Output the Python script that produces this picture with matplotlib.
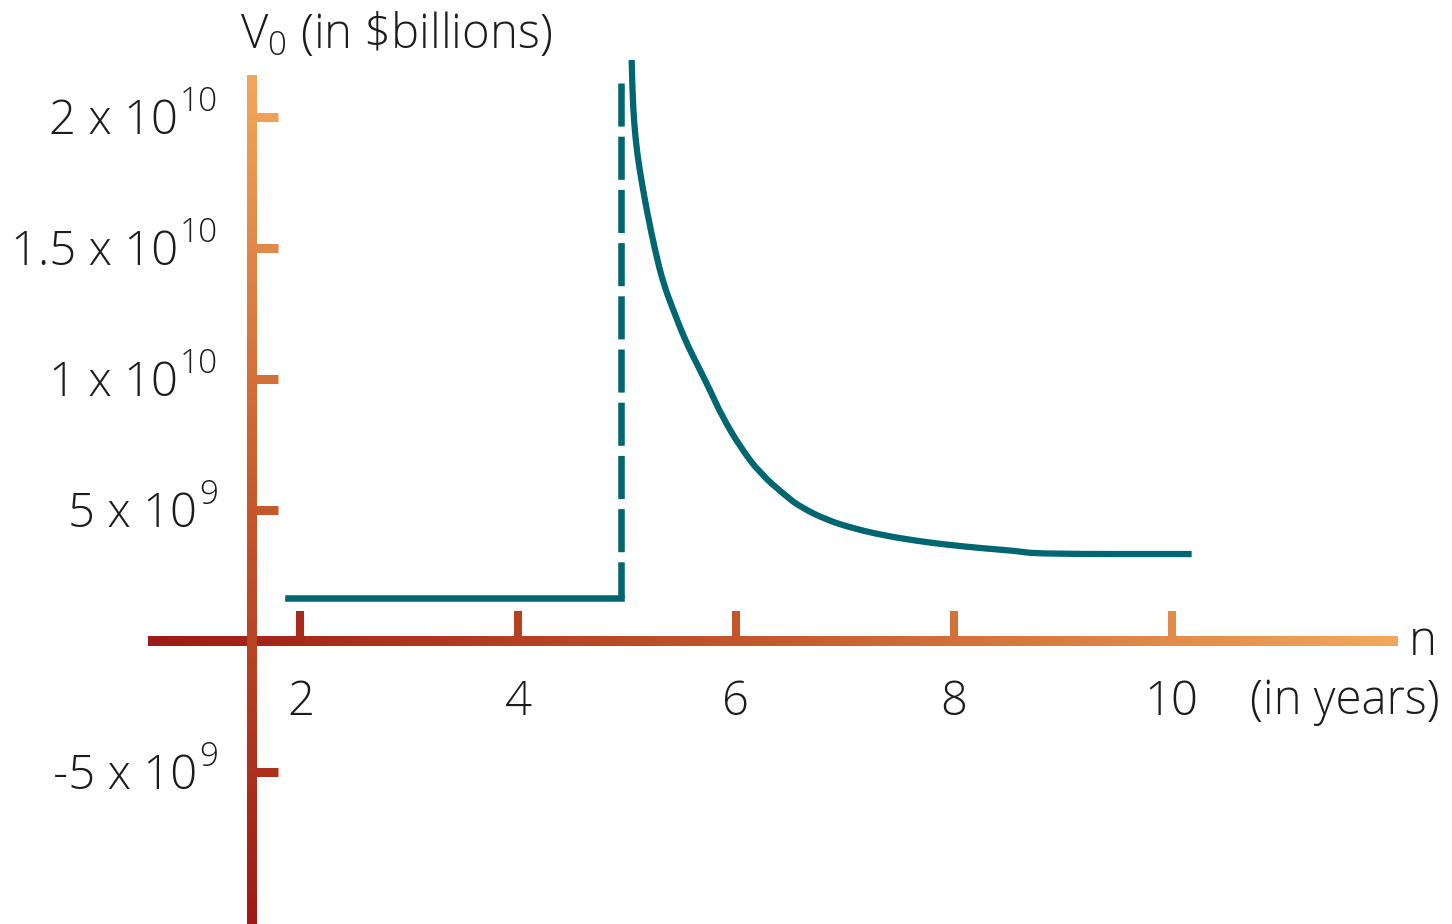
import numpy as np
import matplotlib
matplotlib.use('Agg')
import matplotlib.pyplot as plt
from matplotlib.colors import LinearSegmentedColormap
from matplotlib.path import Path
from matplotlib.patches import PathPatch

plt.rcParams['font.family'] = ['Open Sans', 'DejaVu Sans']
plt.rcParams['font.weight'] = 'light'
plt.rcParams['mathtext.fontset'] = 'custom'
plt.rcParams['mathtext.rm'] = 'Open Sans:light'
plt.rcParams['mathtext.default'] = 'rm'

# flat part before n = 5 and the jump (dashed)
flat_n = [1.886, 4.944]
flat_v = [1.64e9, 1.64e9]
jump_n = [4.944, 4.944]
jump_v = [2.13e10, 1.64e9]

# decaying part after n = 5
curve_n = [5.042, 5.048, 5.063, 5.094, 5.134, 5.183, 5.256, 5.332, 5.424,
           5.532, 5.651, 5.761, 5.871, 6.037, 6.220, 6.466, 6.588, 6.833,
           7.077, 7.338, 7.649, 7.961, 8.272, 8.580, 8.770, 10.184]
curve_v = [2.2176e10, 2.1095e10, 1.9821e10, 1.8550e10, 1.7531e10, 1.6386e10,
           1.4924e10, 1.3653e10, 1.2634e10, 1.1489e10, 1.0496e10, 9.580e9,
           8.588e9, 7.416e9, 6.401e9, 5.508e9, 5.126e9, 4.618e9, 4.302e9,
           4.046e9, 3.828e9, 3.664e9, 3.538e9, 3.435e9, 3.321e9, 3.321e9]

x_ticks = [2, 4, 6, 8, 10]
x_tick_labels = ['2', '4', '6', '8', '10']
y_ticks = [2e10, 1.5e10, 1e10, 5e9, -5e9]
y_tick_bases = ['2 x 10', '1.5 x 10', '1 x 10', '5 x 10', '-5 x 10']
y_tick_exps = ['10', '10', '10', '9', '9']

teal = '#006670'
ink = '#1c1c1c'
axis_cmap = LinearSegmentedColormap.from_list('axis', ['#9e1a14', '#c55a2c', '#f2a85c'])

fig = plt.figure(figsize=(14.52, 9.24), dpi=100)
ax = fig.add_axes([0, 0, 1, 1])
ax.axis('off')

xmin, xmax = -0.7585, 12.575
ymin, ymax = -1.080e10, 2.4466e10

yaxis_x = 1.556
x_lo, x_hi = 0.600, 12.07
y_lo, y_hi = -1.09e10, 2.16e10
px_x = (xmax - xmin) / 1452
px_y = (ymax - ymin) / 924

grad = np.linspace(0, 1, 512)
# horizontal axis
ax.imshow(grad[None, :], cmap=axis_cmap, aspect='auto', zorder=3,
          extent=[x_lo, x_hi, -5 * px_y, 5 * px_y], interpolation='bilinear')
# vertical axis
ax.imshow(grad[::-1, None], cmap=axis_cmap, aspect='auto', zorder=3,
          extent=[yaxis_x - 5 * px_x, yaxis_x + 5 * px_x, y_lo, y_hi],
          interpolation='bilinear')
ax.set_xlim(xmin, xmax)
ax.set_ylim(ymin, ymax)

renderer = fig.canvas.get_renderer()

# ticks
for t, lab in zip(x_ticks, x_tick_labels):
    c = axis_cmap((t - x_lo) / (x_hi - x_lo))
    ax.vlines(t, 0, 30 * px_y, colors=[c], linewidth=5.8, capstyle='butt', zorder=2)
    ax.annotate(lab, (t, 0), xytext=(0, -53), textcoords='offset points',
                ha='center', va='baseline', fontsize=34, color=ink)

for v, base, exp in zip(y_ticks, y_tick_bases, y_tick_exps):
    c = axis_cmap((v - y_lo) / (y_hi - y_lo))
    ax.hlines(v, yaxis_x, yaxis_x + 26 * px_x, colors=[c], linewidth=6.5,
              capstyle='butt', zorder=2)
    sup = ax.annotate(exp, (yaxis_x, v), xytext=(-24.5, 4.5), textcoords='offset points',
                      ha='right', va='baseline', fontsize=24, color=ink)
    w = sup.get_window_extent(renderer).width * 72 / 100
    ax.annotate(base, (yaxis_x, v), xytext=(-24.5 - w - 1.2, -12.2),
                textcoords='offset points', ha='right', va='baseline',
                fontsize=34, color=ink)

# data lines
ax.plot(flat_n, flat_v, color=teal, lw=4.7, solid_capstyle='projecting', zorder=4)
ax.plot(jump_n, jump_v, color=teal, lw=4.7, dash_capstyle='butt',
        linestyle=(0, (6.6, 1.55)), zorder=4)

# smooth line through the curve points (quadratic bezier via midpoints)
pts = np.column_stack([curve_n, curve_v])
verts = [pts[0]]
codes = [Path.MOVETO]
for i in range(1, len(pts) - 1):
    mid = (pts[i] + pts[i + 1]) / 2
    verts += [pts[i], mid]
    codes += [Path.CURVE3, Path.CURVE3]
verts.append(pts[-1])
codes.append(Path.LINETO)
ax.add_patch(PathPatch(Path(verts, codes), fill=False, edgecolor=teal, lw=4.5,
                       capstyle='butt', joinstyle='round', zorder=4))

ax.set_xlim(xmin, xmax)
ax.set_ylim(ymin, ymax)

# axis titles
fig.text(240 / 1452, 1 - 48 / 924, r'V$_0$ (in \$billions)', ha='left',
         va='baseline', fontsize=34, color=ink)
fig.text(1409 / 1452, 1 - 655 / 924, 'n', ha='left', va='baseline',
         fontsize=34, color=ink)
fig.text(1250 / 1452, 1 - 714 / 924, '(in years)', ha='left', va='baseline',
         fontsize=34, color=ink)

fig.savefig('out.png', dpi=100)
